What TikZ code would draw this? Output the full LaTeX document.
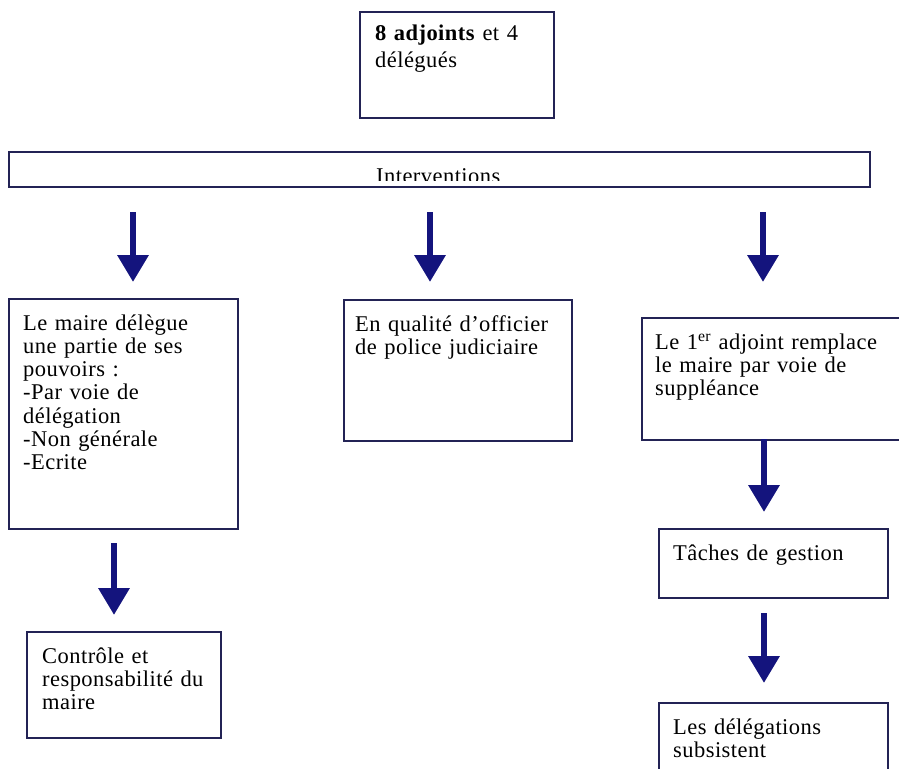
\documentclass[tikz,border=0pt]{standalone}
\usepackage{fontspec}
\setmainfont[LetterSpace=2]{Liberation Serif}
\usetikzlibrary{arrows.meta}
\definecolor{bordure}{RGB}{35,35,85}
\definecolor{bleu}{RGB}{20,20,125}

\begin{document}
\begin{tikzpicture}[x=1bp,y=-1bp,
    cadre/.style={draw=bordure, line width=1.8bp, anchor=north west, inner sep=0pt},
    texte/.style={anchor=base west, align=left, text width=250bp, inner sep=0pt,
      font=\fontsize{22.5bp}{23.3bp}\selectfont},
    fleche/.style={draw=bleu, line width=6.5bp, -{Triangle[width=30bp,length=27bp]}}]
    \useasboundingbox (0,0) rectangle (899,769);

    % haut
    \node[cadre, minimum width=194bp, minimum height=106bp] (adjoints) at (359,11) {};
    \node[texte] (adjointsT) at ([shift={(16,30)}]adjoints.north west)
      {\textbf{8 adjoints} et 4\\[3.5bp]délégués};
    \node[cadre, minimum width=861bp, minimum height=35bp] (inter) at (8,151) {};
    \begin{scope}
      \clip (8,151) rectangle (869,180);
      \node[texte] (interT) at (376,183) {Interventions};
    \end{scope}

    % trois colonnes
    \node[cadre, minimum width=229bp, minimum height=230bp] (maire) at (8,298) {};
    \node[texte] (maireT) at ([shift={(15,32)}]maire.north west)
      {Le maire délègue\\une partie de ses\\pouvoirs :\\-Par voie de\\délégation\\-Non générale\\-Ecrite};
    \node[cadre, minimum width=228bp, minimum height=141bp] (police) at (343,299) {};
    \node[texte] (policeT) at ([shift={(12,32)}]police.north west)
      {En qualité d’officier\\de police judiciaire};
    \node[cadre, minimum width=264bp, minimum height=122bp] (suppl) at (641,317) {};
    \node[texte] (supplT) at ([shift={(14,32)}]suppl.north west)
      {Le 1\textsuperscript{er} adjoint remplace\\le maire par voie de\\suppléance};

    % en bas
    \node[cadre, minimum width=194bp, minimum height=106bp] (controle) at (26,631) {};
    \node[texte] (controleT) at ([shift={(16,32)}]controle.north west)
      {Contrôle et\\responsabilité du\\maire};
    \node[cadre, minimum width=229bp, minimum height=69bp] (taches) at (658,528) {};
    \node[texte] (tachesT) at ([shift={(15,32)}]taches.north west) {Tâches de gestion};
    \node[cadre, minimum width=229bp, minimum height=80bp] (deleg) at (658,702) {};
    \node[texte] (delegT) at ([shift={(15,32)}]deleg.north west)
      {Les délégations\\subsistent};

    % flèches
    \coordinate (f1a) at (133,212); \coordinate (f1b) at (133,282);
    \coordinate (f2a) at (430,212); \coordinate (f2b) at (430,282);
    \coordinate (f3a) at (763,212); \coordinate (f3b) at (763,282);
    \coordinate (f4a) at (114,543); \coordinate (f4b) at (114,615);
    \coordinate (f5a) at (764,439); \coordinate (f5b) at (764,512);
    \coordinate (f6a) at (764,613); \coordinate (f6b) at (764,683);
    \draw[fleche] (f1a) -- (f1b);
    \draw[fleche] (f2a) -- (f2b);
    \draw[fleche] (f3a) -- (f3b);
    \draw[fleche] (f4a) -- (f4b);
    \draw[fleche] (f5a) -- (f5b);
    \draw[fleche] (f6a) -- (f6b);
\end{tikzpicture}
\end{document}
